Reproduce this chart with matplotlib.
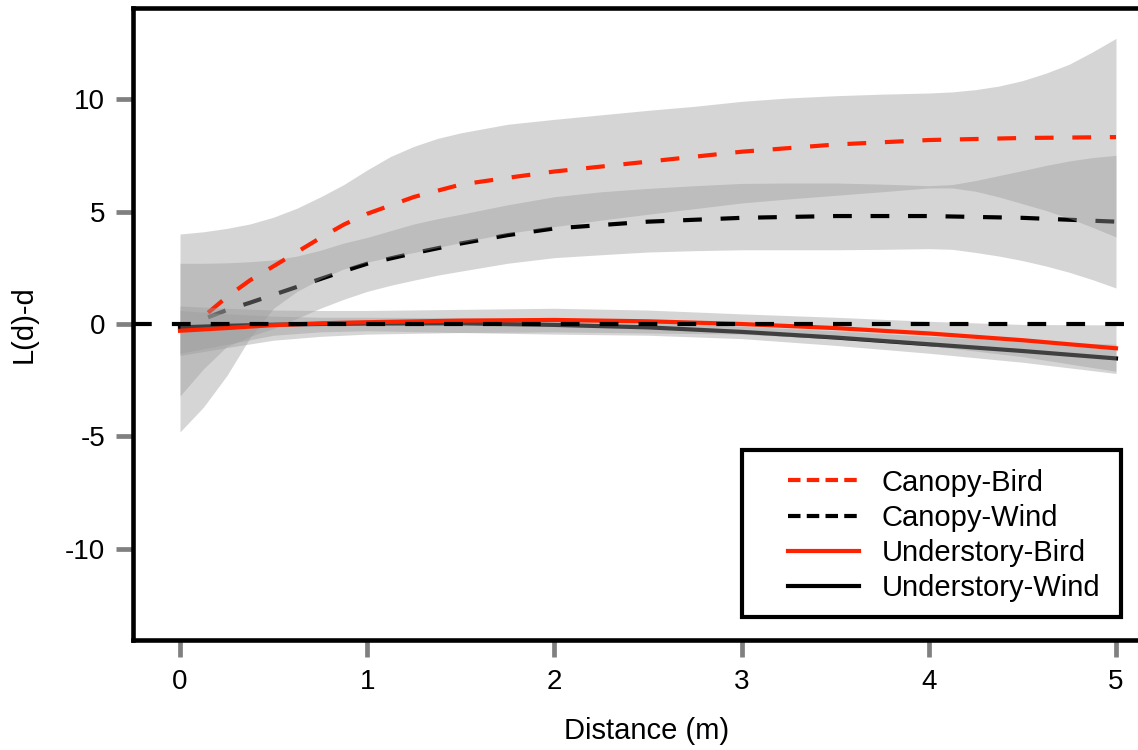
import matplotlib
matplotlib.use("Agg")
import matplotlib.pyplot as plt
from matplotlib.lines import Line2D
from matplotlib.patches import Rectangle

plt.rcParams['font.family'] = ['Liberation Sans', 'DejaVu Sans']
plt.rcParams['lines.scale_dashes'] = False

# ---- data ----
rib_x = [0, 0.125, 0.25, 0.375, 0.5, 0.625, 0.75, 0.875, 1, 1.125, 1.25, 1.375, 1.5, 1.75,
         2, 2.25, 2.5, 2.75, 3, 3.25, 3.5, 3.75, 4, 4.125, 4.25, 4.375, 4.5, 4.625, 4.75, 4.875, 5]
cb_up = [4.0, 4.1, 4.25, 4.45, 4.75, 5.15, 5.65, 6.2, 6.85, 7.45, 7.9, 8.25, 8.5, 8.88,
         9.1, 9.3, 9.5, 9.68, 9.9, 10.05, 10.15, 10.22, 10.27, 10.32, 10.42, 10.58, 10.82, 11.15, 11.55, 12.1, 12.7]
cb_low = [-4.8, -3.7, -2.3, -0.6, 0.7, 1.45, 2.0, 2.45, 2.75, 2.98, 3.18, 3.4, 3.62, 4.03,
          4.33, 4.62, 4.88, 5.13, 5.38, 5.56, 5.72, 5.88, 6.05, 6.05, 5.9, 5.65, 5.35, 5.05, 4.7, 4.3, 3.87]
cw_up = [2.7, 2.7, 2.72, 2.77, 2.85, 3.02, 3.28, 3.6, 3.85, 4.15, 4.45, 4.68, 4.88, 5.3,
         5.66, 5.88, 6.03, 6.15, 6.25, 6.27, 6.27, 6.22, 6.15, 6.2, 6.38, 6.6, 6.82, 7.05, 7.25, 7.4, 7.5]
cw_low = [-3.2, -2.0, -1.0, -0.55, -0.2, 0.25, 0.7, 1.1, 1.45, 1.72, 1.95, 2.17, 2.35, 2.7,
          2.95, 3.08, 3.2, 3.26, 3.3, 3.3, 3.3, 3.32, 3.35, 3.32, 3.18, 3.02, 2.82, 2.58, 2.3, 1.97, 1.6]

can_x = [0.15, 0.25, 0.375, 0.5, 0.625, 0.75, 0.875, 1, 1.25, 1.5, 1.75, 2, 2.5, 3, 3.5, 4, 4.5, 5]
canopy_bird = [0.5, 1.2, 1.95, 2.57, 3.2, 3.83, 4.42, 4.9, 5.65, 6.2, 6.5, 6.78, 7.22, 7.66, 7.98, 8.18, 8.27, 8.31]
canopy_wind = [0.3, 0.62, 0.95, 1.3, 1.65, 2.0, 2.35, 2.68, 3.15, 3.58, 3.95, 4.25, 4.55, 4.72, 4.8, 4.8, 4.72, 4.55]

und_x = [0, 0.25, 0.5, 0.75, 1, 1.5, 2, 2.5, 3, 3.5, 4, 4.5, 5]
under_bird = [-0.3, -0.18, -0.05, 0.03, 0.08, 0.15, 0.18, 0.12, 0.0, -0.18, -0.42, -0.72, -1.08]
under_wind = [-0.15, -0.08, -0.03, 0.0, 0.02, 0.03, -0.04, -0.15, -0.35, -0.6, -0.9, -1.2, -1.53]
ub_up = [0.8, 0.7, 0.62, 0.6, 0.6, 0.65, 0.7, 0.62, 0.45, 0.3, 0.12, -0.02, -0.04]
ub_low = [-1.4, -1.05, -0.72, -0.55, -0.45, -0.38, -0.35, -0.4, -0.45, -0.66, -0.96, -1.45, -2.1]
uw_up = [0.6, 0.45, 0.35, 0.3, 0.3, 0.28, 0.25, 0.12, -0.1, -0.3, -0.55, -0.75, -0.9]
uw_low = [-1.3, -0.9, -0.5, -0.35, -0.3, -0.38, -0.45, -0.5, -0.65, -0.95, -1.3, -1.7, -2.2]

labels = ["Canopy-Bird", "Canopy-Wind", "Understory-Bird", "Understory-Wind"]
x_ticks = [0, 1, 2, 3, 4, 5]
y_ticks = [-10, -5, 0, 5, 10]

# ---- style ----
RED = '#ff2200'
RIB = '#9c9c9c'
RA = 0.415
LW = 3.0
DASH = (13.5, 13.5)

# axes extends past the right edge of the image (as in the reference)
AX_W_PX = 1300
PX_PER_UNIT = 187.2
x_left = -0.251
x_right = x_left + AX_W_PX / PX_PER_UNIT

fig = plt.figure(figsize=(11.38, 7.5), dpi=100)
ax = fig.add_axes([133 / 1138, 1 - 640 / 750, AX_W_PX / 1138, 632 / 750])

# canopy: wind ribbon, wind line, bird ribbon, bird line
ax.fill_between(rib_x, cw_low, cw_up, color=RIB, alpha=RA, lw=0, zorder=1)
ax.plot(can_x, canopy_wind, color='black', lw=LW, dashes=DASH, zorder=2)
ax.fill_between(rib_x, cb_low, cb_up, color=RIB, alpha=RA, lw=0, zorder=3)
ax.plot(can_x, canopy_bird, color=RED, lw=LW, dashes=DASH, zorder=4)

# understory
ax.fill_between(und_x, uw_low, uw_up, color=RIB, alpha=RA, lw=0, zorder=5)
ax.plot(und_x, under_wind, color='black', lw=LW, zorder=6)
ax.fill_between(und_x, ub_low, ub_up, color=RIB, alpha=RA, lw=0, zorder=7)
ax.plot(und_x, under_bird, color=RED, lw=LW, zorder=8)

# reference line
ax.axhline(0, color='black', lw=LW, dashes=(13.5, 14.5), zorder=9)

ax.set_xlim(x_left, x_right)
ax.set_ylim(-14.05, 14.05)
ax.set_xticks(x_ticks)
ax.set_yticks(y_ticks)
ax.set_xticklabels([str(v) for v in x_ticks])
ax.set_yticklabels([str(v) for v in y_ticks])

for s in ['left', 'bottom', 'top']:
    ax.spines[s].set_linewidth(3.3)
    ax.spines[s].set_color('black')
ax.spines['right'].set_visible(False)
ax.tick_params(axis='both', direction='out', length=12, width=3.4, color='#808080',
               labelsize=20, labelcolor='black')
ax.tick_params(axis='x', pad=9)
ax.tick_params(axis='y', pad=8)
ax.set_xlabel("Distance (m)", fontsize=21)
ax.xaxis.set_label_coords((647 - 133) / AX_W_PX, -0.122)
ax.set_ylabel("L(d)-d", fontsize=21, labelpad=20)

# legend box
def ax_x(px):
    return (px - 133) / AX_W_PX

ax.add_patch(Rectangle((ax_x(742), 0.0364), ax_x(1121) - ax_x(742), 0.264, transform=ax.transAxes,
                       facecolor='white', edgecolor='black', lw=3.0, zorder=20))
handles = [
    Line2D([], [], color=RED, lw=LW, dashes=(9, 4.5)),
    Line2D([], [], color='black', lw=LW, dashes=(9, 4.5)),
    Line2D([], [], color=RED, lw=LW),
    Line2D([], [], color='black', lw=LW),
]
leg = ax.legend(handles, labels, loc='center left', bbox_to_anchor=(ax_x(788), 0.1653),
                frameon=False, fontsize=21, handlelength=2.43, handletextpad=0.79,
                labelspacing=0.25, borderpad=0, borderaxespad=0)
leg.set_zorder(21)

fig.savefig("out.png", dpi=100)
